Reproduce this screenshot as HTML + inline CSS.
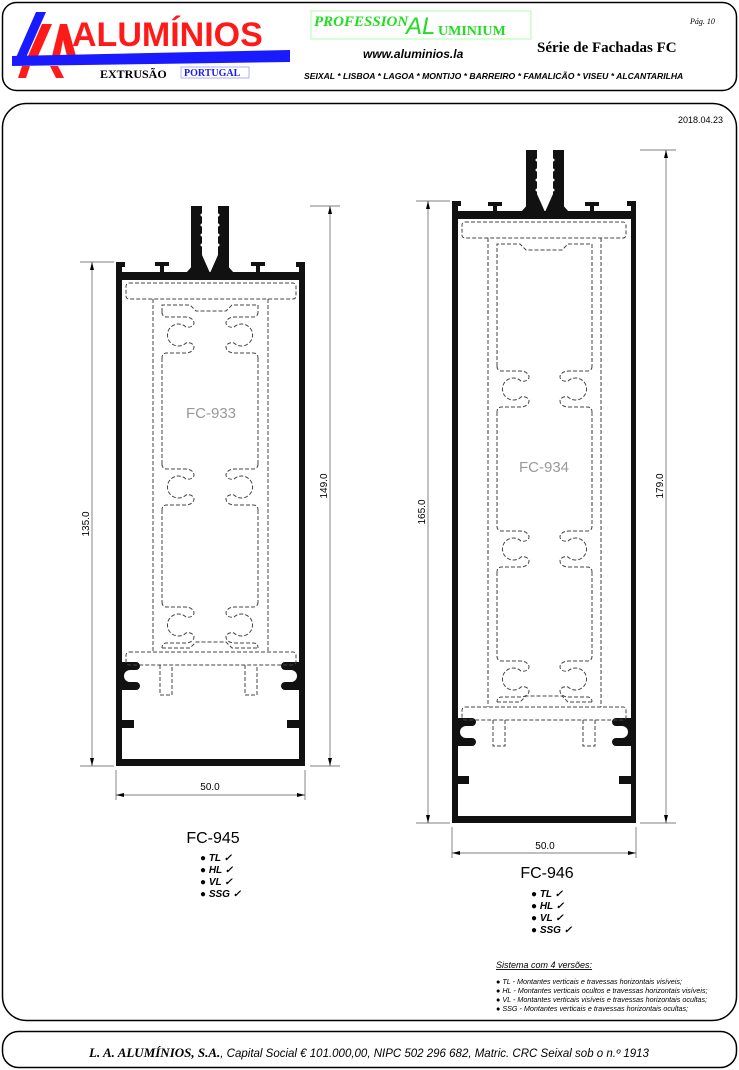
<!DOCTYPE html>
<html><head><meta charset="utf-8"><style>
html,body{margin:0;padding:0;background:#fff;}
body{width:739px;height:1070px;overflow:hidden;}
svg{display:block;font-family:"Liberation Sans",sans-serif;}
</style></head><body>
<svg width="739" height="1070" viewBox="0 0 739 1070" xmlns="http://www.w3.org/2000/svg">
<defs>
<path id="cL" d="M0,0 q0,5 5,5 h18 c6,0 9,3 9,6 c0,3 -4,5 -8,4 a11,11 0 1 0 0,16 c4,-1 8,1 8,4 c0,3 -3,6 -9,6 h-18 q-5,0 -5,5"/>
</defs>
<!-- header frame -->
<rect x="2.5" y="2.5" width="734" height="88" rx="14" fill="none" stroke="#000" stroke-width="1.5"/>
<!-- logo -->
<polygon points="36,12 46,12 24,62 14,62" fill="#1a1aff"/>
<polygon points="42,24 52,24 38,56 28,56" fill="#ff1a1a"/>
<polygon points="52,56 60,24 67,24 76,56 67,56 63,40 60,56" fill="#ff1a1a"/>
<polygon points="12,56 290,50 290,62 12,66" fill="#1a1aff"/>
<polygon points="22,66 30,66 26,78 18,78" fill="#ff1a1a"/>
<polygon points="50,66 58,66 64,78 56,78" fill="#ff1a1a"/>
<text x="72" y="46" font-size="34" font-weight="bold" fill="#ff1a1a">ALUMÍNIOS</text>
<text x="100" y="78" font-family="Liberation Serif,serif" font-size="12" font-weight="bold">EXTRUSÃO</text>
<rect x="181" y="67" width="68" height="11" fill="none" stroke="#99f" stroke-width="0.8"/>
<text x="184" y="76" font-family="Liberation Serif,serif" font-size="10" font-weight="bold" fill="#1a1aff">PORTUGAL</text>
<rect x="311" y="11" width="220" height="28" fill="none" stroke="#9f9" stroke-width="0.8"/>
<text x="314" y="26" font-family="Liberation Serif,serif" font-size="15" font-weight="bold" font-style="italic" fill="#2d2">PROFESSION</text>
<text x="406" y="34" font-size="24" font-style="italic" fill="#2d2">AL</text>
<text x="438" y="35" font-family="Liberation Serif,serif" font-size="14" font-weight="bold" fill="#2d2">UMINIUM</text>
<text x="363" y="58" font-size="12" font-weight="bold" font-style="italic">www.aluminios.la</text>
<text x="537" y="52" font-family="Liberation Serif,serif" font-size="15" font-weight="bold">Série de Fachadas FC</text>
<text x="690" y="24" font-family="Liberation Serif,serif" font-size="8" font-style="italic">Pág. 10</text>
<text x="304" y="79" font-size="8.6" font-weight="bold" font-style="italic">SEIXAL * LISBOA * LAGOA * MONTIJO * BARREIRO * FAMALICÃO * VISEU * ALCANTARILHA</text>
<!-- main frame -->
<rect x="2.5" y="103.5" width="734" height="917" rx="24" fill="none" stroke="#000" stroke-width="1.5"/>
<text x="723" y="123" font-size="9" text-anchor="end">2018.04.23</text>
<!-- footer -->
<rect x="2.5" y="1031.5" width="734" height="36" rx="16" fill="none" stroke="#000" stroke-width="1.5"/>
<text x="369" y="1057" text-anchor="middle" font-size="11.5" font-style="italic"><tspan font-family="Liberation Serif,serif" font-weight="bold" font-size="13">L. A. ALUMÍNIOS, S.A.</tspan>, Capital Social € 101.000,00, NIPC 502 296 682, Matric. CRC Seixal sob o n.º 1913</text>

<!-- PROFILE 1 -->
<g fill="#111">
<rect x="116" y="262" width="6" height="504"/>
<rect x="299" y="262" width="6" height="504"/>
<rect x="116" y="272" width="189" height="8"/>
<rect x="116" y="759" width="189" height="7"/>
<rect x="116" y="262" width="9" height="5"/><rect x="296" y="262" width="9" height="5"/>
<rect x="155" y="262" width="14" height="4"/><rect x="160" y="262" width="4" height="11"/>
<rect x="251" y="262" width="14" height="4"/><rect x="256" y="262" width="4" height="11"/>
<rect x="191" y="206" width="11" height="66"/><rect x="218" y="206" width="11" height="66"/>
<polygon points="186,273 202,255 210,273"/><polygon points="210,273 218,255 234,273"/>
<path d="M116,662 h20 a4,4 0 0 1 0,8 h-6 a6,6 0 0 0 0,12 h6 a4,4 0 0 1 0,8 h-20 z"/>
<path d="M305,662 h-20 a4,4 0 0 0 0,8 h6 a6,6 0 0 1 0,12 h-6 a4,4 0 0 0 0,8 h20 z"/>
<rect x="116" y="720" width="18" height="8"/><rect x="287" y="720" width="18" height="8"/>
</g>
<g fill="#fff">
<circle cx="202" cy="215" r="1.5"/><circle cx="202" cy="225" r="1.5"/><circle cx="202" cy="235" r="1.5"/><circle cx="202" cy="245" r="1.5"/>
<circle cx="218" cy="215" r="1.5"/><circle cx="218" cy="225" r="1.5"/><circle cx="218" cy="235" r="1.5"/><circle cx="218" cy="245" r="1.5"/>
</g>
<g fill="none" stroke="#444" stroke-width="1" stroke-dasharray="4,2">
<rect x="126" y="283" width="170" height="16" rx="3"/>
<path d="M153,299 V652 M268,299 V652"/>
<path d="M162,312 V305 h28 l6,6 h30 l6,-6 h26 V312"/>
<path d="M162,358 V464 M258,358 V464 M162,510 V602 M258,510 V602"/>
<use href="#cL" transform="translate(162,312)"/>
<use href="#cL" transform="translate(258,312) scale(-1,1)"/>
<use href="#cL" transform="translate(162,464)"/>
<use href="#cL" transform="translate(258,464) scale(-1,1)"/>
<use href="#cL" transform="translate(162,602)"/>
<use href="#cL" transform="translate(258,602) scale(-1,1)"/>
<path d="M162,648 h28 l6,-6 h30 l6,6 h26"/>
<rect x="126" y="652" width="170" height="13" rx="3"/>
<path d="M160,665 V695 h12 V665 M245,665 V695 h12 V665"/>
</g>
<text x="211" y="418" font-size="15" fill="#999" text-anchor="middle">FC-933</text>
<g stroke="#555" stroke-width="0.7" fill="none">
<path d="M80,262 H114 M80,766 H114 M92,262 V766 M310,206 H340 M310,766 H340 M330,206 V766 M116,770 V800 M305,770 V800 M116,795 H305"/>
</g>
<g fill="#000">
<polygon points="92,262 90,270 94,270"/><polygon points="92,766 90,758 94,758"/>
<polygon points="330,206 328,214 332,214"/><polygon points="330,766 328,758 332,758"/>
<polygon points="116,795 124,793 124,797"/><polygon points="305,795 297,793 297,797"/>
</g>
<text transform="translate(89,524) rotate(-90)" font-size="10" text-anchor="middle">135.0</text>
<text transform="translate(327,486) rotate(-90)" font-size="10" text-anchor="middle">149.0</text>
<text x="210" y="790" font-size="10" text-anchor="middle">50.0</text>
<text x="213" y="843" font-size="16" text-anchor="middle">FC-945</text>
<g font-size="10" font-weight="bold" font-style="italic">
<text x="200" y="861">● TL ✓</text><text x="200" y="873">● HL ✓</text>
<text x="200" y="885">● VL ✓</text><text x="200" y="897">● SSG ✓</text>
</g>

<!-- PROFILE 2 -->
<g fill="#111">
<rect x="452" y="201" width="6" height="622"/>
<rect x="631" y="201" width="5" height="622"/>
<rect x="452" y="211" width="184" height="8"/>
<rect x="452" y="816" width="184" height="7"/>
<rect x="452" y="201" width="9" height="5"/><rect x="627" y="201" width="9" height="5"/>
<rect x="488" y="202" width="14" height="4"/><rect x="493" y="202" width="4" height="10"/>
<rect x="585" y="202" width="14" height="4"/><rect x="590" y="202" width="4" height="10"/>
<rect x="526" y="150" width="11" height="62"/><rect x="553" y="150" width="11" height="62"/>
<polygon points="521,212 537,194 545,212"/><polygon points="545,212 553,194 569,212"/>
<path d="M452,718 h20 a4,4 0 0 1 0,8 h-6 a6,6 0 0 0 0,12 h6 a4,4 0 0 1 0,8 h-20 z"/>
<path d="M636,718 h-20 a4,4 0 0 0 0,8 h6 a6,6 0 0 1 0,12 h-6 a4,4 0 0 0 0,8 h20 z"/>
<rect x="452" y="776" width="17" height="8"/><rect x="619" y="776" width="17" height="8"/>
</g>
<g fill="#fff">
<circle cx="537" cy="160" r="1.5"/><circle cx="537" cy="170" r="1.5"/><circle cx="537" cy="180" r="1.5"/><circle cx="537" cy="190" r="1.5"/>
<circle cx="553" cy="160" r="1.5"/><circle cx="553" cy="170" r="1.5"/><circle cx="553" cy="180" r="1.5"/><circle cx="553" cy="190" r="1.5"/>
</g>
<g fill="none" stroke="#444" stroke-width="1" stroke-dasharray="4,2">
<rect x="462" y="222" width="164" height="16" rx="3"/>
<path d="M488,238 V707 M601,238 V707"/>
<path d="M497,366 V244 h23 l6,6 h36 l6,-6 h24 V366"/>
<path d="M497,412 V526 M592,412 V526 M497,572 V656 M592,572 V656"/>
<use href="#cL" transform="translate(497,366)"/>
<use href="#cL" transform="translate(592,366) scale(-1,1)"/>
<use href="#cL" transform="translate(497,526)"/>
<use href="#cL" transform="translate(592,526) scale(-1,1)"/>
<use href="#cL" transform="translate(497,656)"/>
<use href="#cL" transform="translate(592,656) scale(-1,1)"/>
<path d="M497,702 h23 l6,-6 h36 l6,6 h24"/>
<rect x="462" y="707" width="164" height="13" rx="3"/>
<path d="M493,720 V746 h12 V720 M583,720 V746 h12 V720"/>
</g>
<text x="544" y="472" font-size="15" fill="#999" text-anchor="middle">FC-934</text>
<g stroke="#555" stroke-width="0.7" fill="none">
<path d="M416,201 H450 M416,823 H450 M428,201 V823 M640,150 H676 M640,823 H676 M666,150 V823 M452,827 V858 M636,827 V858 M452,853 H636"/>
</g>
<g fill="#000">
<polygon points="428,201 426,209 430,209"/><polygon points="428,823 426,815 430,815"/>
<polygon points="666,150 664,158 668,158"/><polygon points="666,823 664,815 668,815"/>
<polygon points="452,853 460,851 460,855"/><polygon points="636,853 628,851 628,855"/>
</g>
<text transform="translate(425,512) rotate(-90)" font-size="10" text-anchor="middle">165.0</text>
<text transform="translate(663,486) rotate(-90)" font-size="10" text-anchor="middle">179.0</text>
<text x="545" y="849" font-size="10" text-anchor="middle">50.0</text>
<text x="547" y="878" font-size="16" text-anchor="middle">FC-946</text>
<g font-size="10" font-weight="bold" font-style="italic">
<text x="531" y="897">● TL ✓</text><text x="531" y="909">● HL ✓</text>
<text x="531" y="921">● VL ✓</text><text x="531" y="933">● SSG ✓</text>
</g>

<!-- legend -->
<text x="496" y="968" font-size="9" font-style="italic" text-decoration="underline">Sistema com 4 versões:</text>
<g font-size="7.2" font-style="italic">
<text x="496" y="984">● TL - Montantes verticais e travessas horizontais visíveis;</text>
<text x="496" y="993">● HL - Montantes verticais ocultos e travessas horizontais visíveis;</text>
<text x="496" y="1002">● VL - Montantes verticais visíveis e travessas horizontais ocultas;</text>
<text x="496" y="1011">● SSG - Montantes verticais e travessas horizontais ocultas;</text>
</g>
</svg>
</body></html>
